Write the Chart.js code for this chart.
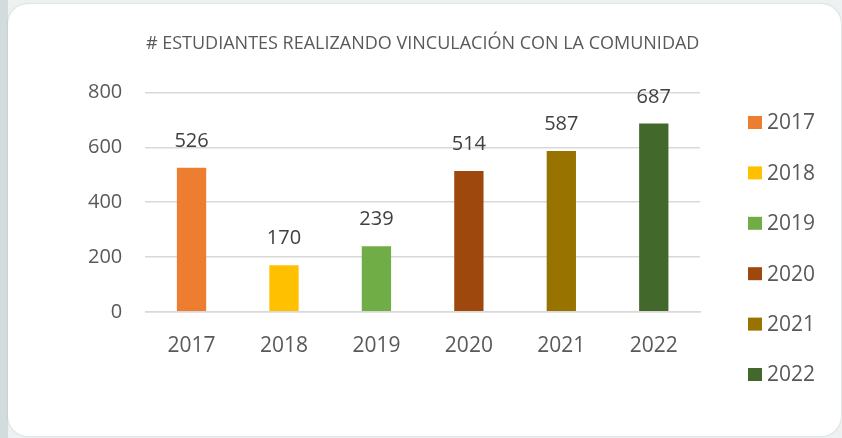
<!DOCTYPE html>
<html>
<head>
<meta charset="utf-8">
<script src="https://cdn.jsdelivr.net/npm/chart.js@4"></script>
<style>
    html, body { margin: 0; padding: 0; }
    body {
        width: 842px;
        height: 438px;
        overflow: hidden;
        background: linear-gradient(to right, #d3dcdc 0, #d3dcdc 8px, #eef1f1 8px);
        position: relative;
    }
    .card {
        position: absolute;
        left: 8px;
        top: 4px;
        width: 833px;
        height: 432px;
        background: #fff;
        border-radius: 20px;
        box-shadow: 0 0 2px rgba(0, 0, 0, 0.18);
    }
    #chart {
        position: absolute;
        left: 0;
        top: 0;
    }
</style>
</head>
<body>
<div class="card"></div>
<canvas id="chart" width="842" height="438"></canvas>
<script>
// # estudiantes realizando vinculacion - chart data
const years = ['2017', '2018', '2019', '2020', '2021', '2022'];
const students = [526, 170, 239, 514, 587, 687];
const barColors = ['#ed7d31', '#ffc000', '#70ad47', '#9e480e', '#997300', '#43682b'];
const yTicks = [0, 200, 400, 600, 800];

const FONT = "'Open Sans', 'Liberation Sans', sans-serif";

// value labels above each bar
const valueLabels = {
    id: 'valueLabels',
    afterDatasetsDraw(chart) {
        const ctx = chart.ctx;
        const meta = chart.getDatasetMeta(0);
        ctx.save();
        ctx.font = `20px ${FONT}`;
        ctx.fillStyle = '#404040';
        ctx.textAlign = 'center';
        ctx.textBaseline = 'alphabetic';
        meta.data.forEach((bar, i) => {
            ctx.fillText(students[i], bar.x, bar.y - 21);
        });
        ctx.restore();
    }
};

// legend on the right, one item per year
const sideLegend = {
    id: 'sideLegend',
    afterDraw(chart) {
        const ctx = chart.ctx;
        const left = chart.chartArea.right + 48;
        const top = 122.5;
        const step = 50.4;
        ctx.save();
        ctx.font = `21px ${FONT}`;
        ctx.textBaseline = 'middle';
        ctx.textAlign = 'left';
        years.forEach((year, i) => {
            const cy = top + i * step;
            ctx.fillStyle = barColors[i];
            ctx.fillRect(left, cy - 6.5, 14, 13);
            ctx.fillStyle = '#595959';
            ctx.fillText(year, left + 19, cy + 1);
        });
        ctx.restore();
    }
};

new Chart(document.getElementById('chart'), {
    type: 'bar',
    data: {
        labels: years,
        datasets: [{
            data: students,
            backgroundColor: barColors,
            barPercentage: 0.317,
            categoryPercentage: 1
        }]
    },
    options: {
        responsive: false,
        animation: false,
        layout: {
            padding: { left: 65, right: 142, top: 0, bottom: 65 }
        },
        plugins: {
            legend: { display: false },
            tooltip: { enabled: false },
            title: {
                display: true,
                text: '# ESTUDIANTES REALIZANDO VINCULACIÓN CON LA COMUNIDAD',
                fullSize: false,
                color: '#595959',
                font: { family: FONT, size: 18, weight: 'normal' },
                padding: { top: 33, bottom: 38 }
            }
        },
        scales: {
            x: {
                grid: { display: false },
                border: { display: true, color: '#d9d9d9', width: 1.5 },
                ticks: {
                    color: '#595959',
                    font: { family: FONT, size: 21 },
                    padding: 14
                }
            },
            y: {
                min: 0,
                max: 800,
                afterBuildTicks(scale) {
                    scale.ticks = yTicks.map(v => ({ value: v }));
                },
                grid: { color: '#d9d9d9', lineWidth: 1.5, drawTicks: false },
                border: { display: false },
                ticks: {
                    color: '#595959',
                    font: { family: FONT, size: 20 },
                    padding: 23
                }
            }
        }
    },
    plugins: [valueLabels, sideLegend]
});
</script>
</body>
</html>
